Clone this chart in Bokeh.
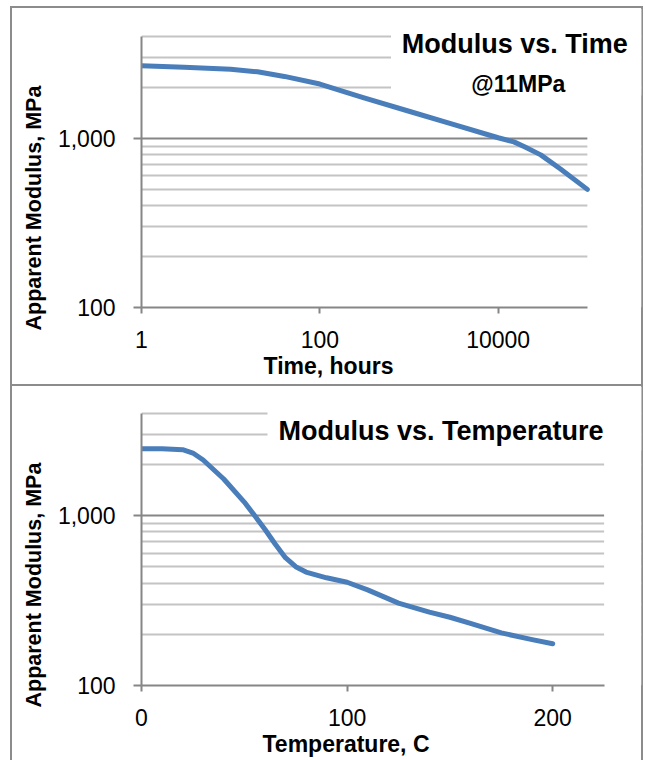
import math
from bokeh.plotting import figure
from bokeh.layouts import column
from bokeh.models import (Range1d, FixedTicker, NumeralTickFormatter, Grid,
                          BoxAnnotation, Label, Title)
from bokeh.embed import file_html
from bokeh.resources import INLINE

# ---------------- data ----------------
time_hours = [1, 3, 10, 20, 40, 100, 300, 1000, 3000, 10000, 15000, 20000, 30000,
              50000, 100000]
modulus_time = [2690, 2640, 2570, 2480, 2330, 2100, 1750, 1450, 1220, 1010, 955, 890,
                800, 660, 500]

temperature_c = [0, 10, 20, 25, 30, 40, 50, 55, 60, 65, 70, 75, 80, 90, 100,
                 110, 125, 140, 150, 160, 175, 190, 200]
modulus_temp = [2470, 2470, 2440, 2330, 2120, 1640, 1200, 1000, 830, 680, 565,
                500, 465, 430, 405, 365, 305, 270, 252, 232, 204, 186, 176]

time_axis = (1, 100000)
temp_axis = (0, 225)
modulus_axis = (100, 4000)
time_ticks = [1, 100, 10000]
temp_ticks = [0, 100, 200]
modulus_ticks = [100, 1000]
modulus_minor = [200, 300, 400, 500, 600, 700, 800, 900, 2000, 3000, 4000]

title_time = "Modulus vs. Time"
subtitle_time = "@11MPa"
title_temp = "Modulus vs. Temperature"
xlabel_time = "Time, hours"
xlabel_temp = "Temperature, C"
ylabel = "Apparent Modulus, MPa"

# ---------------- styles ----------------
FONT = "Liberation Sans"
AXIS = "#868686"
MINOR = "#c4c4c4"
BLUE = "#4a7ebb"
BORDER = "#8c8c8c"


def make_panel(width, height, mb, xr, yr, xlog, xticks, xbounds, shadow, margin):
    left, right, top, bottom = mb
    p = figure(width=width, height=height,
               x_axis_type="log" if xlog else "linear", y_axis_type="log",
               x_range=Range1d(*xr), y_range=Range1d(*yr),
               output_backend="svg", toolbar_location=None,
               min_border_left=left, min_border_right=right,
               min_border_top=top, min_border_bottom=bottom)
    p.margin = margin
    p.styles = {"box-shadow": shadow}
    p.outline_line_color = None
    p.background_fill_alpha = 0
    p.border_fill_alpha = 0
    p.xgrid.visible = False

    fw = width - left - right
    fh = height - top - bottom

    def sx(px):
        f = (px - left) / fw
        if xlog:
            return 10 ** (math.log10(xr[0]) + f * (math.log10(xr[1]) - math.log10(xr[0])))
        return xr[0] + f * (xr[1] - xr[0])

    def sy(py):
        f = (top + fh - py) / fh
        return 10 ** (math.log10(yr[0]) + f * (math.log10(yr[1]) - math.log10(yr[0])))

    xa = p.xaxis[0]
    xa.ticker = FixedTicker(ticks=xticks)
    xa.formatter = NumeralTickFormatter(format="0")
    xa.bounds = xbounds
    xa.axis_line_color = AXIS
    xa.axis_line_width = 2
    xa.major_tick_line_color = AXIS
    xa.major_tick_line_width = 2
    xa.major_tick_out = 6
    xa.major_tick_in = 0
    xa.minor_tick_out = 0
    xa.minor_tick_in = 0
    xa.major_label_standoff = 17
    xa.major_label_text_font = FONT
    xa.major_label_text_font_size = "23px"
    xa.major_label_text_color = "black"

    ya = p.yaxis[0]
    ya.ticker = FixedTicker(ticks=modulus_ticks)
    ya.formatter = NumeralTickFormatter(format="0,0")
    ya.bounds = modulus_axis
    ya.axis_line_color = AXIS
    ya.axis_line_width = 2
    ya.major_tick_line_color = AXIS
    ya.major_tick_line_width = 2
    ya.major_tick_out = 8
    ya.major_tick_in = 0
    ya.minor_tick_out = 0
    ya.minor_tick_in = 0
    ya.major_label_standoff = 18
    ya.major_label_text_font = FONT
    ya.major_label_text_font_size = "23px"
    ya.major_label_text_color = "black"

    p.ygrid.ticker = FixedTicker(ticks=[1000])
    p.ygrid.grid_line_color = AXIS
    p.ygrid.grid_line_width = 2
    p.add_layout(Grid(dimension=1, ticker=FixedTicker(ticks=modulus_minor),
                      grid_line_color=MINOR, grid_line_width=2))
    # white area right of the plotted x range (hides grid lines there)
    p.add_layout(BoxAnnotation(left=xbounds[1], right=xr[1], bottom=yr[0], top=yr[1],
                               fill_color="white", fill_alpha=1, line_color=None,
                               level="underlay"))
    return p, sx, sy


def axis_titles(p, xtext, xoffset, yoffset):
    p.add_layout(Title(text=xtext, align="left", offset=xoffset, standoff=0,
                       text_font=FONT, text_font_style="bold",
                       text_font_size="23px", text_color="black"), "below")
    p.add_layout(Title(text=ylabel, align="left", offset=yoffset, standoff=18,
                       text_font=FONT, text_font_style="bold",
                       text_font_size="21.5px", text_color="black"), "left")


# ---------------- top panel: modulus vs time ----------------
W1, H1 = 633, 380
MB1 = (130, 2, 2, 79)
fw1, fh1 = W1 - MB1[0] - MB1[1], H1 - MB1[2] - MB1[3]
x_end1 = 10 ** (fw1 / 89.35)
y_end1 = 10 ** (2 + fh1 / 169.0)
p1, sx1, sy1 = make_panel(W1, H1, MB1, (1, x_end1), (100, y_end1), True,
                          time_ticks, time_axis,
                          f"inset 0 0 0 2px {BORDER}", (6, 0, 0, 10))
p1.add_layout(BoxAnnotation(left=sx1(380), right=x_end1, bottom=sy1(89), top=y_end1,
                            fill_color="white", fill_alpha=1, line_color=None,
                            level="underlay"))
p1.line(time_hours, modulus_time, line_color=BLUE, line_width=5,
        line_join="round", line_cap="round")
p1.add_layout(Label(x=sx1(504), y=sy1(37), text=title_time, text_font=FONT,
                    text_font_style="bold", text_font_size="27px", text_color="black",
                    text_align="center", text_baseline="alphabetic"))
p1.add_layout(Label(x=sx1(507.5), y=sy1(77), text=subtitle_time, text_font=FONT,
                    text_font_style="bold", text_font_size="23px", text_color="black",
                    text_align="center", text_baseline="alphabetic"))
axis_titles(p1, xlabel_time, 122, -23)

# ---------------- bottom panel: modulus vs temperature ----------------
W2, H2 = 633, 374
MB2 = (131, 2, 0, 75)
fw2, fh2 = W2 - MB2[0] - MB2[1], H2 - MB2[2] - MB2[3]
x_end2 = fw2 / 2.056
y_end2 = 10 ** (2 + fh2 / 170.0)
p2, sx2, sy2 = make_panel(W2, H2, MB2, (0, x_end2), (100, y_end2), False,
                          temp_ticks, temp_axis,
                          f"inset 2px 0 0 0 {BORDER}, inset -2px 0 0 0 {BORDER}",
                          (0, 0, 0, 10))
p2.add_layout(BoxAnnotation(left=sx2(257), right=x_end2, bottom=sy2(64), top=y_end2,
                            fill_color="white", fill_alpha=1, line_color=None,
                            level="underlay"))
p2.line(temperature_c, modulus_temp, line_color=BLUE, line_width=5,
        line_join="round", line_cap="round")
p2.add_layout(Label(x=sx2(430.5), y=sy2(44), text=title_temp, text_font=FONT,
                    text_font_style="bold", text_font_size="27px", text_color="black",
                    text_align="center", text_baseline="alphabetic"))
axis_titles(p2, xlabel_temp, 121, -22)

layout = column(p1, p2, spacing=0)
open("out.html", "w").write(file_html(layout, INLINE))
